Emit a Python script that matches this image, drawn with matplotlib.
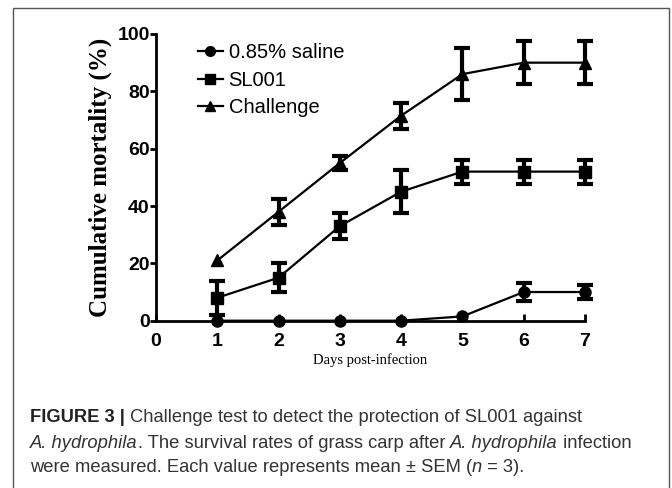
import matplotlib.pyplot as plt
from matplotlib.patches import Rectangle
from matplotlib.lines import Line2D

# data
days = [1, 2, 3, 4, 5, 6, 7]
saline = [0, 0, 0, 0, 1.5, 10, 10]
saline_err = [0, 0, 0, 0, 0, 3, 2.5]
sl001 = [8, 15, 33, 45, 52, 52, 52]
sl001_err = [6, 5, 4.5, 7.5, 4.2, 4.2, 4.2]
challenge = [21, 38, 55, 71.5, 86, 90, 90]
challenge_err = [0, 4.5, 2.5, 4.5, 9, 7.5, 7.5]
names = ['0.85% saline', 'SL001', 'Challenge']
markers = ['o', 's', '^']

fig = plt.figure(figsize=(6.72, 4.88), dpi=100)

# outer frame of the figure panel
frame = Rectangle((13 / 672, -0.05), (669 - 13) / 672, 1 - 8 / 488 + 0.05,
                  transform=fig.transFigure, fill=False, edgecolor='#555555', lw=1)
fig.patches.append(frame)

ax = fig.add_axes([156 / 672, 1 - 320.7 / 488, (585 - 156) / 672, (320.7 - 34) / 488])

handles = []
for y, e, m, n in zip([saline, sl001, challenge], [saline_err, sl001_err, challenge_err], markers, names):
    ax.plot(days, y, color='black', lw=1.6, marker=m, ms=8, clip_on=False, zorder=3)
    xs = [d for d, v in zip(days, e) if v > 0]
    ys = [a for a, v in zip(y, e) if v > 0]
    es = [v for v in e if v > 0]
    ax.errorbar(xs, ys, yerr=es, fmt='none', ecolor='black', elinewidth=3,
                capsize=6, capthick=3, clip_on=False, zorder=3)
    handles.append(Line2D([], [], color='black', lw=1.6, marker=m, ms=7, label=n))

ax.set_xlim(0, 7)
ax.set_ylim(0, 100)
ax.set_xticks(range(8))
ax.set_yticks([0, 20, 40, 60, 80, 100])
for s in ['top', 'right']:
    ax.spines[s].set_visible(False)
for s in ['left', 'bottom']:
    ax.spines[s].set_linewidth(2)
ax.tick_params(axis='x', direction='in', length=5, width=2, pad=9)
ax.tick_params(axis='y', direction='out', length=4, width=2, pad=0.5)
for lab in ax.get_xticklabels() + ax.get_yticklabels():
    lab.set_fontfamily('Liberation Sans')
    lab.set_fontweight('bold')
    lab.set_fontsize(14)

ax.set_ylabel('Cumulative mortality (%)', fontfamily='Liberation Serif',
              fontweight='bold', fontsize=18, labelpad=4)
ax.set_xlabel('Days post-infection', fontfamily='Liberation Serif', fontsize=10.5, labelpad=2)

ax.legend(handles=handles, loc='upper left', bbox_to_anchor=(0.08, 0.995), frameon=False,
          borderaxespad=0, prop={'family': 'Liberation Sans', 'size': 14.5},
          handlelength=1.2, handletextpad=0.3, labelspacing=0.42)

# caption, written piece by piece so bold / italic parts line up
renderer = fig.canvas.get_renderer()
cap_lines = [
    (417, [('FIGURE 3 |', 'bold', 'normal', '#222222'),
           (' Challenge test to detect the protection of SL001 against', 'normal', 'normal', '#333333')]),
    (443, [('A. hydrophila', 'normal', 'italic', '#333333'),
           ('. The survival rates of grass carp after ', 'normal', 'normal', '#333333'),
           ('A. hydrophila', 'normal', 'italic', '#333333'),
           (' infection', 'normal', 'normal', '#333333')]),
    (468, [('were measured. Each value represents mean \u00b1 SEM (', 'normal', 'normal', '#333333'),
           ('n', 'normal', 'italic', '#333333'),
           (' = 3).', 'normal', 'normal', '#333333')]),
]
for ypix, parts in cap_lines:
    x = 30
    for txt, w, st, c in parts:
        t = fig.text(x / 672, 1 - ypix / 488, txt, fontfamily='Liberation Sans', fontweight=w,
                     fontstyle=st, fontsize=13.2, va='center', color=c)
        bb = t.get_window_extent(renderer)
        x += bb.width

fig.savefig('out.png', dpi=100)
